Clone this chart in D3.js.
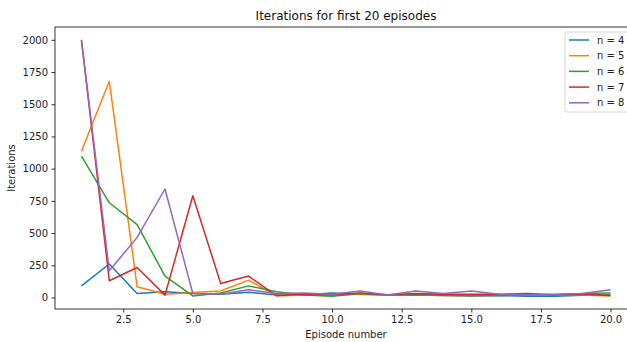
<!DOCTYPE html>
<html>
<head>
<meta charset="utf-8">
<script src="https://cdn.jsdelivr.net/npm/d3@7"></script>
<style>
    body { margin: 0; background: #fff; }
    svg { display: block; font-family: 'DejaVu Sans', sans-serif; }
</style>
</head>
<body>
<div class="chart"></div>
<script>
const episodes = d3.range(1, 21)
const seriesNames = ['n = 4', 'n = 5', 'n = 6', 'n = 7', 'n = 8']
const n4 = [90, 260, 31, 45, 30, 25, 40, 20, 22, 35, 25, 20, 20, 15, 12, 15, 10, 10, 18, 20]
const n5 = [1135, 1678, 83, 25, 38, 50, 135, 12, 20, 20, 25, 20, 22, 15, 15, 18, 20, 22, 20, 12]
const n6 = [1098, 735, 565, 166, 12, 35, 90, 45, 20, 10, 30, 20, 22, 18, 15, 15, 20, 22, 30, 35]
const n7 = [2000, 130, 233, 18, 790, 109, 166, 15, 25, 22, 35, 22, 30, 25, 25, 25, 30, 22, 25, 15]
const n8 = [2000, 207, 466, 842, 31, 25, 60, 30, 35, 25, 50, 20, 50, 30, 50, 25, 22, 25, 30, 60]
const yTicks = [0, 250, 500, 750, 1000, 1250, 1500, 1750, 2000]
const xTicks = [2.5, 5, 7.5, 10, 12.5, 15, 17.5, 20]
const colors = ['#1f77b4', '#ff7f0e', '#2ca02c', '#d62728', '#9467bd']

const width = 627
const height = 342
const margin = { left: 55, right: -10, top: 27, bottom: 33 }

const series = [n4, n5, n6, n7, n8].map((vals, i) => ({
    name: seriesNames[i],
    color: colors[i],
    points: vals.map((v, j) => ({ x: episodes[j], y: v }))
}))

// matplotlib style 5% margins
const pad = ([a, b]) => [a - (b - a) * 0.05, b + (b - a) * 0.05]
const xExt = pad(d3.extent(episodes))
const yExt = pad(d3.extent([].concat(n4, n5, n6, n7, n8)))

const x = d3.scaleLinear().domain(xExt).range([margin.left, width - margin.right])
const y = d3.scaleLinear().domain(yExt).range([height - margin.bottom, margin.top])

const svg = d3.select('.chart')
    .append('svg')
    .attr('width', width)
    .attr('height', height)

svg.append('rect')
    .attr('width', width)
    .attr('height', height)
    .attr('fill', '#fff')

const line = d3.line().x(d => x(d.x)).y(d => y(d.y))

svg.append('g')
    .selectAll('path')
    .data(series)
    .enter()
    .append('path')
    .attr('d', d => line(d.points))
    .attr('fill', 'none')
    .attr('stroke', d => d.color)
    .attr('stroke-width', 1.5)
    .attr('stroke-linejoin', 'round')

const xAxis = svg.append('g')
    .attr('transform', `translate(0,${height - margin.bottom})`)
    .call(d3.axisBottom(x).tickValues(xTicks).tickFormat(d3.format('.1f')).tickSize(3.5).tickPadding(3.5))

const yAxis = svg.append('g')
    .attr('transform', `translate(${margin.left},0)`)
    .call(d3.axisLeft(y).tickValues(yTicks).tickFormat(d3.format('d')).tickSize(3.5).tickPadding(3.5))

;[xAxis, yAxis].forEach(a => {
    a.select('.domain').remove()
    a.selectAll('line').attr('stroke', '#000').attr('stroke-width', 0.8)
    a.selectAll('text').attr('font-size', 10).attr('fill', '#222').attr('font-family', 'DejaVu Sans')
})

// frame
svg.append('rect')
    .attr('x', margin.left)
    .attr('y', margin.top)
    .attr('width', x.range()[1] - margin.left)
    .attr('height', y.range()[0] - margin.top)
    .attr('fill', 'none')
    .attr('stroke', '#000')
    .attr('stroke-width', 0.8)

const cx = (x.range()[0] + x.range()[1]) / 2

svg.append('text')
    .attr('x', cx)
    .attr('y', 20)
    .attr('text-anchor', 'middle')
    .attr('font-size', 12)
    .attr('fill', '#111')
    .text('Iterations for first 20 episodes')

svg.append('text')
    .attr('x', cx)
    .attr('y', 338)
    .attr('text-anchor', 'middle')
    .attr('font-size', 10)
    .attr('fill', '#222')
    .text('Episode number')

svg.append('text')
    .attr('transform', `translate(15,${(y.range()[0] + y.range()[1]) / 2}) rotate(-90)`)
    .attr('text-anchor', 'middle')
    .attr('font-size', 10)
    .attr('fill', '#222')
    .text('Iterations')

// legend
const legend = svg.append('g')
    .attr('transform', 'translate(565,32)')

legend.append('rect')
    .attr('width', 68)
    .attr('height', 80)
    .attr('rx', 2)
    .attr('fill', '#fff')
    .attr('fill-opacity', 0.8)
    .attr('stroke', '#ccc')
    .attr('stroke-width', 0.8)

const item = legend.selectAll('g.item')
    .data(series)
    .enter()
    .append('g')
    .attr('class', 'item')
    .attr('transform', (d, i) => `translate(0,${8 + i * 15.7})`)

item.append('line')
    .attr('x1', 4)
    .attr('x2', 24)
    .attr('stroke', d => d.color)
    .attr('stroke-width', 1.5)

item.append('text')
    .attr('x', 32)
    .attr('dy', '0.35em')
    .attr('font-size', 10)
    .attr('fill', '#222')
    .text(d => d.name)
</script>
</body>
</html>
